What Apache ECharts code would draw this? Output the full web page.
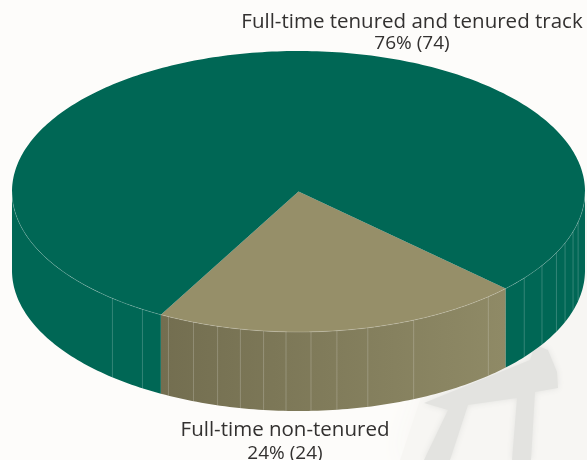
<!DOCTYPE html>
<html lang="en">
<head>
    <meta charset="UTF-8">
    <title>Faculty status</title>
    <script src="https://cdn.jsdelivr.net/npm/echarts@6/dist/echarts.min.js"></script>
    <style>
        html, body { margin: 0; padding: 0; background: #fdfcfa; }
    </style>
</head>
<body>
<div id="main" style="width:587px;height:460px;"></div>
<script type="text/javascript">
    // the data, smallest slice first because it is drawn from the front
    var sliceNames = ['Full-time non-tenured', 'Full-time tenured and tenured track'];
    var slicePercents = [24, 76];
    var sliceCounts = [24, 74];

    // top face and side colours
    var topColors = ['#968f69', '#006755'];
    var sideColors = [['#736e50', '#8f8a66'], ['#006755', '#006755']];

    // facet lines on the rim, as angles round the ellipse (0 = right, 90 = front)
    var ribAngles = [12.6, 16.6, 21.5, 25.8, 31.8, 38, 48.5, 66.3, 76, 82.3, 87.5, 92.5, 97,
        101.7, 106.4, 111.5, 117, 123, 130.5];

    var cx = 298.5, cy = 191.5, rx = 286.5, ry = 140.5, depth = 79;
    var startAngle = 38, frontAngle = 81.2, viewWarp = 5.7;
    var rad = Math.PI / 180;

    // the picture is a slanted view, so the front wedge looks a little narrower
    function warp(a) {
        return a - viewWarp * Math.sin(2 * (a - frontAngle) * rad);
    }

    function rim(a, dy) {
        return [cx + rx * Math.cos(a * rad), cy + ry * Math.sin(a * rad) + (dy || 0)];
    }

    function arcPoints(from, to, dy) {
        var pts = [];
        var n = Math.ceil(Math.abs(to - from));
        for (var i = 0; i <= n; i++) {
            pts.push(rim(from + (to - from) * i / n, dy));
        }
        return pts;
    }

    function sideShape(from, to, color) {
        return {
            type: 'polygon',
            shape: { points: arcPoints(from, to, 0).concat(arcPoints(to, from, depth)) },
            style: { fill: color }
        };
    }

    function renderSlice(params, api) {
        var i = params.dataIndex;
        var total = slicePercents.reduce(function (s, v) { return s + v; }, 0);
        var before = 0;
        for (var k = 0; k < i; k++) {
            before += slicePercents[k];
        }
        var a0 = startAngle + before / total * 360;
        var a1 = a0 + api.value(1) / total * 360;
        var from = warp(a0), to = warp(a1);
        var children = [];

        if (i === 0) {
            // front wedge: the rim is shaded from left to right
            var left = rim(to), right = rim(from);
            children.push(sideShape(from, to, {
                type: 'linear', x: left[0], y: 0, x2: right[0], y2: 0, global: true,
                colorStops: [
                    { offset: 0, color: sideColors[0][0] },
                    { offset: 1, color: sideColors[0][1] }
                ]
            }));
        } else {
            // big slice wraps round the back, only its two ends have a visible rim
            children.push(sideShape(from, 180, sideColors[1][0]));
            children.push(sideShape(360, to, sideColors[1][1]));
        }

        children.push({
            type: 'polygon',
            shape: { points: [[cx, cy]].concat(arcPoints(from, to, 0)) },
            style: { fill: topColors[i] }
        });
        return { type: 'group', children: children };
    }

    function renderRibs() {
        var children = [];
        ribAngles.forEach(function (a) {
            var p = rim(a);
            children.push({
                type: 'line',
                shape: { x1: p[0], y1: p[1], x2: p[0], y2: p[1] + depth },
                style: { stroke: 'rgba(255,255,255,0.2)', lineWidth: 1 }
            });
        });
        // thin seam between top face and rim
        children.push({
            type: 'polyline',
            shape: { points: arcPoints(0, 180, 0) },
            style: { stroke: 'rgba(255,255,255,0.28)', lineWidth: 0.7, fill: null }
        });
        return { type: 'group', children: children };
    }

    var labelFont = '"Open Sans", "Noto Sans", sans-serif';

    function label(text, x, y, size) {
        return {
            type: 'text',
            x: x,
            y: y,
            style: {
                text: text,
                fill: '#333130',
                font: size + 'px ' + labelFont,
                textAlign: 'center',
                textVerticalAlign: 'bottom'
            }
        };
    }

    var myChart = echarts.init(document.getElementById('main'));

    var option = {
        animation: false,
        backgroundColor: '#fdfcfa',
        graphic: [
            // washed out photo behind the chart, bottom right
            {
                type: 'polygon',
                z: 0,
                shape: { points: [[400, 460], [440, 340], [587, 200], [587, 460]] },
                style: { fill: '#f7f6f3', shadowBlur: 30, shadowColor: '#f7f6f3' }
            },
            {
                type: 'polygon',
                z: 0,
                shape: { points: [[424, 403], [530, 360], [535, 345], [548, 350], [557, 372], [558, 388],
                    [535, 392], [531, 460], [512, 460], [517, 398], [468, 405], [450, 460], [424, 460], [448, 410]] },
                style: { fill: '#e3e3e0', shadowBlur: 6, shadowColor: '#e3e3e0' }
            },
            label(sliceNames[1], 412, 33, 20.5),
            label(slicePercents[1] + '% (' + sliceCounts[1] + ')', 412, 53, 19),
            label(sliceNames[0], 285, 441, 20.5),
            label(slicePercents[0] + '% (' + sliceCounts[0] + ')', 285, 463, 19)
        ],
        series: [
            {
                type: 'custom',
                coordinateSystem: 'none',
                z: 2,
                renderItem: renderSlice,
                data: slicePercents.map(function (v, i) { return [i, v]; })
            },
            {
                type: 'custom',
                coordinateSystem: 'none',
                z: 3,
                silent: true,
                renderItem: renderRibs,
                data: [[0]]
            }
        ]
    };
    myChart.setOption(option);
</script>
</body>
</html>
